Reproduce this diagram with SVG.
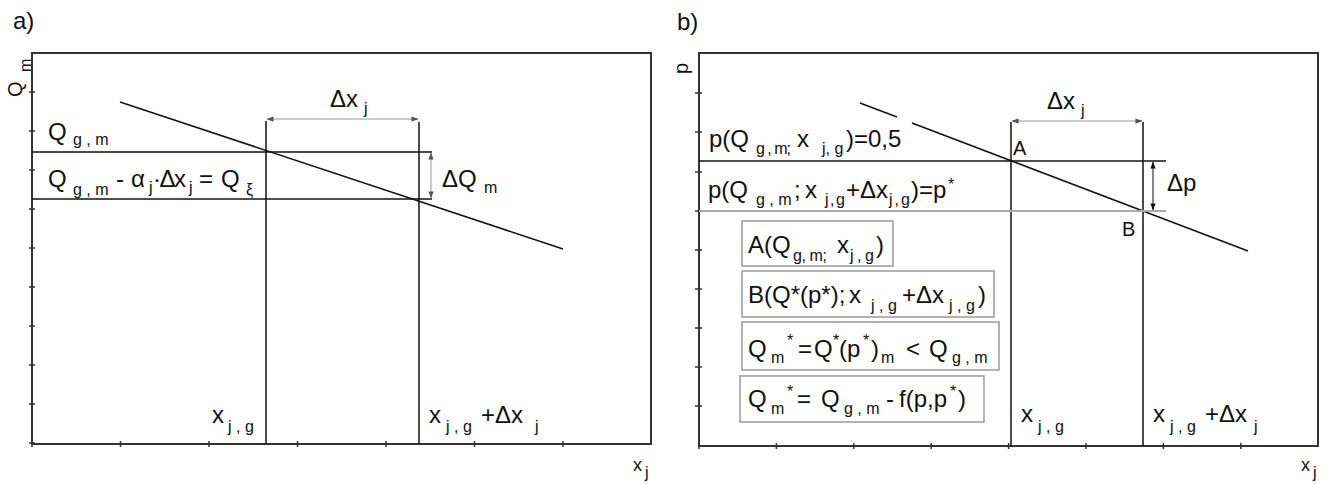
<svg xmlns="http://www.w3.org/2000/svg" width="1328" height="484" viewBox="0 0 1328 484">
<defs>
<style>
text{font-family:"Liberation Sans",Arial,sans-serif;fill:#111;}
.t{font-size:24px;}
.s{font-size:16px;}
.m{font-size:20px;}
.frame{fill:none;stroke:#333;stroke-width:2;}
.tick{stroke:#333;stroke-width:1.5;}
.ln{stroke:#111;stroke-width:1.5;fill:none;}
.dim{stroke:#999;stroke-width:1;fill:none;}
.box{fill:none;stroke:#999;stroke-width:1.5;}
</style>
<marker id="ag" viewBox="0 0 8 8" refX="7.5" refY="4" markerWidth="7" markerHeight="7" markerUnits="userSpaceOnUse" orient="auto-start-reverse"><path d="M0,1 L8,4 L0,7 Z" fill="#555"/></marker>
<marker id="ab" viewBox="0 0 8 8" refX="7.5" refY="4" markerWidth="7" markerHeight="7" markerUnits="userSpaceOnUse" orient="auto-start-reverse"><path d="M0,1 L8,4 L0,7 Z" fill="#111"/></marker>
</defs>
<rect width="1328" height="484" fill="#fff"/>

<!-- Panel a -->
<g id="panel-a">
<text class="t" x="13" y="29">a)</text>
<rect class="frame" x="32" y="53" width="619" height="391"/>
<g id="a-yticks">
<path class="tick" d="M29,92h6M29,131h6M29,170h6M29,209h6M29,248h6M29,287h6M29,326h6M29,365h6M29,404h6M29,443h6"/>
</g>
<g id="a-xticks">
<path class="tick" d="M32,441v6M120.5,441v6M209,441v6M297.5,441v6M386,441v6M474.5,441v6M563,441v6"/>
</g>
<text transform="translate(22,97) rotate(-90)"><tspan class="m" x="0" y="0">Q</tspan><tspan class="s" x="25" y="9">m</tspan></text>
<text x="633" y="471"><tspan style="font-size:18px">x</tspan><tspan class="s" x="645" y="478">j</tspan></text>
</g>

<g id="a-curve">
<line class="ln" x1="120" y1="102" x2="563" y2="249"/>
</g>

<g id="a-connectors">
<line class="ln" x1="266" y1="121" x2="266" y2="444"/>
<line class="ln" x1="419" y1="122" x2="419" y2="444"/>
<line class="ln" x1="32" y1="152" x2="432" y2="152"/>
<line class="ln" x1="32" y1="199" x2="432" y2="199"/>
<line class="dim" x1="267" y1="119" x2="418" y2="119" marker-start="url(#ag)" marker-end="url(#ag)"/>
<line class="dim" x1="431" y1="153" x2="431" y2="198" marker-start="url(#ag)" marker-end="url(#ag)"/>
</g>

<g id="a-label-qgm">
<text><tspan class="t" x="48" y="140">Q</tspan><tspan class="s" x="73" y="145">g , m</tspan></text>
</g>
<g id="a-label-qxi">
<text><tspan class="t" x="48" y="187">Q</tspan><tspan class="s" x="73" y="195">g , m</tspan><tspan class="t" x="116" y="187">-</tspan><tspan class="t" x="131" y="187">α</tspan><tspan class="s" x="149" y="193">j</tspan><tspan class="t" x="153" y="187" textLength="33" lengthAdjust="spacing">·Δx</tspan><tspan class="s" x="189" y="193">j</tspan><tspan class="t" x="199" y="187">=</tspan><tspan class="t" x="221" y="187">Q</tspan><tspan class="s" x="246" y="195">ξ</tspan></text>
</g>
<g id="a-label-dx">
<text><tspan class="t" x="330" y="107">Δx</tspan><tspan class="s" x="364" y="114">j</tspan></text>
</g>
<g id="a-label-dq">
<text><tspan class="t" x="442" y="187">ΔQ</tspan><tspan class="s" x="484" y="193">m</tspan></text>
</g>
<g id="a-label-xjg">
<text><tspan class="t" x="212" y="423">x</tspan><tspan class="s" x="228" y="432">j , g</tspan></text>
</g>
<g id="a-label-xjgdx">
<text><tspan class="t" x="429" y="423">x</tspan><tspan class="s" x="446" y="432">j , g</tspan><tspan class="t" x="481" y="423">+Δx</tspan><tspan class="s" x="535" y="432">j</tspan></text>
</g>

<!-- Panel b -->
<g id="panel-b">
<text class="t" x="677" y="30">b)</text>
<rect class="frame" x="699" y="53" width="619" height="393"/>
<g id="b-yticks">
<path class="tick" d="M695,93h7M695,132h7M695,172h7M695,211h7M695,250h7M695,289h7M695,328h7M695,367h7M695,406h7"/>
</g>
<g id="b-xticks">
<path class="tick" d="M699,443v6M776.4,443v6M853.8,443v6M931.2,443v6M1008.6,443v6M1086,443v6M1163.4,443v6M1240.8,443v6"/>
</g>
<text class="m" transform="translate(688,74) rotate(-90)" x="0" y="0">p</text>
<text x="1301" y="471"><tspan style="font-size:18px">x</tspan><tspan class="s" x="1313" y="478">j</tspan></text>
</g>

<g id="b-curve">
<line class="ln" x1="860" y1="103" x2="897" y2="117"/>
<line class="ln" x1="912" y1="123" x2="1248" y2="251"/>
</g>

<g id="b-connectors">
<line class="ln" x1="1011" y1="122" x2="1011" y2="446"/>
<line class="ln" x1="1143" y1="122" x2="1143" y2="446"/>
<line class="ln" x1="699" y1="161" x2="1166" y2="161"/>
<line x1="699" y1="211" x2="1166" y2="211" stroke="#aaa" stroke-width="2"/>
<line class="dim" x1="1012" y1="121" x2="1142" y2="121" marker-start="url(#ag)" marker-end="url(#ag)"/>
<line x1="1153" y1="162" x2="1153" y2="210" stroke="#111" stroke-width="1" marker-start="url(#ab)" marker-end="url(#ab)"/>
</g>

<g id="b-point-a"><text class="m" x="1013" y="155">A</text></g>
<g id="b-point-b"><text class="m" x="1122" y="236">B</text></g>
<g id="b-label-dx">
<text><tspan class="t" x="1047" y="109">Δx</tspan><tspan class="s" x="1081" y="116">j</tspan></text>
</g>
<g id="b-label-dp">
<text class="t" x="1167" y="191">Δp</text>
</g>
<g id="b-label-p05">
<text><tspan class="t" x="709" y="147">p(Q</tspan><tspan class="s" x="756" y="154" textLength="35" lengthAdjust="spacing">g , m;</tspan><tspan class="t" x="797" y="147">x</tspan><tspan class="s" x="822" y="154">j, g</tspan><tspan class="t" x="846" y="147">)=0,5</tspan></text>
</g>
<g id="b-label-pstar">
<text><tspan class="t" x="708" y="198">p(Q</tspan><tspan class="s" x="756" y="205">g , m</tspan><tspan class="t" x="794" y="198">;</tspan><tspan class="t" x="805" y="198">x</tspan><tspan class="s" x="825" y="205" textLength="20" lengthAdjust="spacing">j , g</tspan><tspan class="t" x="846" y="198">+Δx</tspan><tspan class="s" x="889" y="205" textLength="21" lengthAdjust="spacing">j , g</tspan><tspan class="t" x="911" y="198">)=p</tspan><tspan class="s" x="948" y="190">*</tspan></text>
</g>
<g id="b-box-a">
<rect class="box" x="742" y="221" width="151" height="45"/>
<text><tspan class="t" x="748" y="253">A(Q</tspan><tspan class="s" x="793" y="261" textLength="34" lengthAdjust="spacing">g, m;</tspan><tspan class="t" x="837" y="253">x</tspan><tspan class="s" x="850" y="261" textLength="24" lengthAdjust="spacing">j , g</tspan><tspan class="t" x="876" y="253">)</tspan></text>
</g>
<g id="b-box-b">
<rect class="box" x="742" y="271" width="252" height="46"/>
<text><tspan class="t" x="748" y="303">B(Q*(p*);</tspan><tspan class="t" x="849" y="303">x</tspan><tspan class="s" x="871" y="311">j , g</tspan><tspan class="t" x="902" y="303">+Δx</tspan><tspan class="s" x="949" y="311">j , g</tspan><tspan class="t" x="978" y="303">)</tspan></text>
</g>
<g id="b-box-c">
<rect class="box" x="742" y="322" width="257" height="48"/>
<text><tspan class="t" x="748" y="357">Q</tspan><tspan class="s" x="771" y="363">m</tspan><tspan class="s" x="787" y="346">*</tspan><tspan class="t" x="798" y="357">=</tspan><tspan class="t" x="814" y="357">Q</tspan><tspan class="s" x="833" y="346">*</tspan><tspan class="t" x="839" y="357">(p</tspan><tspan class="s" x="863" y="346">*</tspan><tspan class="t" x="871" y="357">)</tspan><tspan class="s" x="881" y="363">m</tspan><tspan class="t" x="906" y="357">&lt;</tspan><tspan class="t" x="929" y="357">Q</tspan><tspan class="s" x="952" y="363">g , m</tspan></text>
</g>
<g id="b-box-d">
<rect class="box" x="740" y="376" width="244" height="46"/>
<text><tspan class="t" x="748" y="407">Q</tspan><tspan class="s" x="771" y="414">m</tspan><tspan class="s" x="787" y="397">*</tspan><tspan class="t" x="797" y="407">=</tspan><tspan class="t" x="821" y="407">Q</tspan><tspan class="s" x="844" y="414">g , m</tspan><tspan class="t" x="886" y="407">-</tspan><tspan class="t" x="899" y="407">f(p,p</tspan><tspan class="s" x="950" y="397">*</tspan><tspan class="t" x="958" y="407">)</tspan></text>
</g>
<g id="b-label-xjg">
<text><tspan class="t" x="1021" y="422">x</tspan><tspan class="s" x="1038" y="432">j , g</tspan></text>
</g>
<g id="b-label-xjgdx">
<text><tspan class="t" x="1153" y="422">x</tspan><tspan class="s" x="1170" y="432">j , g</tspan><tspan class="t" x="1205" y="422">+Δx</tspan><tspan class="s" x="1254" y="432">j</tspan></text>
</g>
</svg>
